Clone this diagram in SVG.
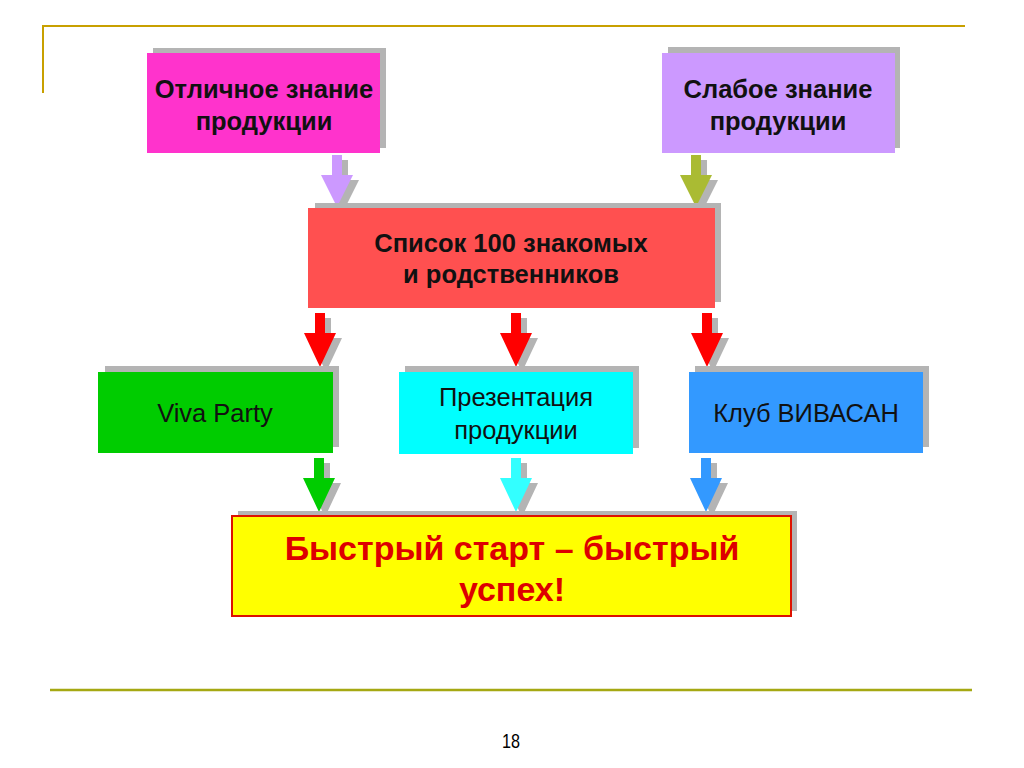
<svg xmlns="http://www.w3.org/2000/svg" xmlns:xlink="http://www.w3.org/1999/xlink" width="1024" height="768" viewBox="0 0 1024 768">
<style>
.sh{fill:#b4b4b4}
.t{font-family:"Liberation Sans",Arial,sans-serif;text-anchor:middle;fill:#111}
.b{font-weight:bold;font-size:25.5px}
.r{font-size:25.5px}
.big{font-family:"Liberation Sans",Arial,sans-serif;text-anchor:middle;font-weight:bold;font-size:34px;fill:#dd0000}
</style>
<defs>
<path id="a52" d="M-5,0 H5 V20 H16 L0,52 L-16,20 H-5 Z"/>
<path id="a54" d="M-5,0 H5 V20 H16 L0,54 L-16,20 H-5 Z"/>
</defs>
<rect width="1024" height="768" fill="#fff"/>
<g id="frame">
<line x1="42" y1="26" x2="965" y2="26" stroke="#c8a000" stroke-width="2"/>
<line x1="43" y1="26" x2="43" y2="93" stroke="#c8a000" stroke-width="2"/>
<line x1="50" y1="690" x2="972" y2="690" stroke="#a5a812" stroke-width="2.5"/>
<text x="511" y="748" font-family="Liberation Sans,Arial,sans-serif" font-size="21" text-anchor="middle" fill="#000" textLength="18" lengthAdjust="spacingAndGlyphs">18</text>
</g>
<g id="connectors">
<use href="#a52" x="343" y="160" class="sh"/>
<use href="#a52" x="337" y="155" fill="#cc99ff"/>
<use href="#a52" x="702" y="160" class="sh"/>
<use href="#a52" x="696" y="155" fill="#aabb33"/>
<use href="#a54" x="326" y="318" class="sh"/>
<use href="#a54" x="320" y="313" fill="#ff0000"/>
<use href="#a54" x="522" y="318" class="sh"/>
<use href="#a54" x="516" y="313" fill="#ff0000"/>
<use href="#a54" x="713" y="318" class="sh"/>
<use href="#a54" x="707" y="313" fill="#ff0000"/>
<use href="#a54" x="325" y="463" class="sh"/>
<use href="#a54" x="319" y="458" fill="#00cc00"/>
<use href="#a54" x="522" y="463" class="sh"/>
<use href="#a54" x="516" y="458" fill="#33ffff"/>
<use href="#a54" x="712" y="463" class="sh"/>
<use href="#a54" x="706" y="458" fill="#3399ff"/>
</g>
<g id="n1">
<rect x="153" y="48" width="233" height="100" class="sh"/>
<rect x="147" y="53" width="233" height="100" fill="#ff33cc"/>
<text class="t b" x="264" y="98">Отличное знание</text>
<text class="t b" x="264" y="130">продукции</text>
</g>
<g id="n2">
<rect x="668" y="47" width="232" height="101" class="sh"/>
<rect x="662" y="53" width="233" height="100" fill="#cc99ff"/>
<text class="t b" x="778" y="98">Слабое знание</text>
<text class="t b" x="778" y="130">продукции</text>
</g>
<g id="n3">
<rect x="315" y="203" width="406" height="99" class="sh"/>
<rect x="308" y="208" width="407" height="100" fill="#ff5050"/>
<text class="t b" x="511" y="252">Список 100 знакомых</text>
<text class="t b" x="511" y="283">и родственников</text>
</g>
<g id="n4">
<rect x="105" y="366" width="234" height="81" class="sh"/>
<rect x="98" y="372" width="235" height="81" fill="#00cc00"/>
<text class="t r" x="215" y="422">Viva Party</text>
</g>
<g id="n5">
<rect x="405" y="366" width="234" height="82" class="sh"/>
<rect x="399" y="372" width="234" height="82" fill="#00ffff"/>
<text class="t r" x="516" y="406">Презентация</text>
<text class="t r" x="516" y="439">продукции</text>
</g>
<g id="n6">
<rect x="695" y="366" width="234" height="81" class="sh"/>
<rect x="689" y="372" width="234" height="81" fill="#3399ff"/>
<text class="t r" x="806" y="422">Клуб ВИВАСАН</text>
</g>
<g id="n7">
<rect x="238" y="511" width="559" height="100" class="sh"/>
<rect x="232" y="516" width="559" height="100" fill="#ffff00" stroke="#dd1100" stroke-width="2"/>
<text class="big" x="512" y="560">Быстрый старт – быстрый</text>
<text class="big" x="512" y="601">успех!</text>
</g>
</svg>
